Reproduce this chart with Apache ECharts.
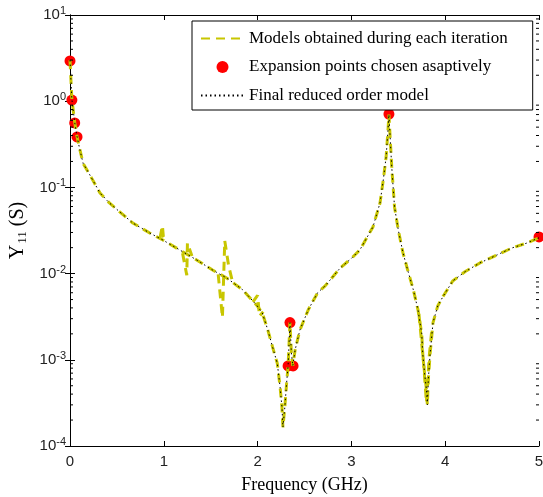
<!DOCTYPE html>
<html>
<head>
<meta charset="utf-8">
<script src="https://cdn.jsdelivr.net/npm/echarts@6/dist/echarts.min.js"></script>
<style>
  html, body { margin: 0; padding: 0; background: #fff; }
  #chart { width: 543px; height: 497px; }
</style>
</head>
<body>
<div id="chart"></div>
<script>
// final reduced order model, Y11 (S) against frequency (GHz)
var finalFreq = [0, 0.02, 0.05, 0.075, 0.10, 0.14, 0.20, 0.32, 0.42, 0.53, 0.67, 0.85, 0.99,
  1.17, 1.35, 1.52, 1.67, 1.84, 1.99, 2.05, 2.11, 2.16, 2.21, 2.24, 2.26, 2.27, 2.29, 2.31,
  2.325, 2.345, 2.36, 2.375, 2.40, 2.45, 2.54, 2.64, 2.72, 2.88, 3.00, 3.09, 3.23, 3.305,
  3.34, 3.37, 3.39, 3.40, 3.43, 3.46, 3.50, 3.55, 3.60, 3.66, 3.71, 3.75, 3.76, 3.78, 3.80,
  3.81, 3.82, 3.84, 3.87, 3.92, 3.98, 4.08, 4.21, 4.37, 4.55, 4.71, 4.87, 5.00];
var finalY = [3.0, 1.05, 0.57, 0.39, 0.29, 0.19, 0.147, 0.086, 0.066, 0.052, 0.0386, 0.0296, 0.0245,
  0.0188, 0.0144, 0.011, 0.0089, 0.0065, 0.0043, 0.0035, 0.0022, 0.0014, 0.00091, 0.00048, 0.00028, 0.000165, 0.00028, 0.00055,
  0.00085, 0.0027, 0.0012, 0.00085, 0.0013, 0.0022, 0.0038, 0.006, 0.0072, 0.0116, 0.015, 0.0188, 0.0348, 0.066,
  0.122, 0.225, 0.46, 0.70, 0.173, 0.059, 0.032, 0.0174, 0.011, 0.0065, 0.0038, 0.002, 0.0012, 0.0007, 0.00045,
  0.0003, 0.00059, 0.0012, 0.0027, 0.0042, 0.0055, 0.0082, 0.0105, 0.0133, 0.0164, 0.0198, 0.0226, 0.026];

// intermediate models that differ from the final one (spurious poles)
var spike1Freq = [0.96, 0.985, 0.995, 1.03];
var spike1Y = [0.026, 0.036, 0.027, 0.0235];
var spike2Freq = [1.20, 1.245, 1.252, 1.30];
var spike2Y = [0.0172, 0.0096, 0.0226, 0.016];
var spike3Freq = [1.58, 1.625, 1.65, 1.69, 1.73];
var spike3Y = [0.0098, 0.0031, 0.024, 0.0125, 0.0082];
var spike4Freq = [1.95, 2.0, 2.02, 2.06];
var spike4Y = [0.0047, 0.0056, 0.0032, 0.0036];
var notchFreq = [3.72, 3.77, 3.79, 3.80, 3.83, 3.86];
var notchY = [0.0034, 0.0009, 0.00045, 0.00032, 0.0011, 0.0024];

// expansion points
var expFreq = [0, 0.02, 0.05, 0.075, 2.325, 2.345, 2.378, 3.40, 5.0];
var expY = [2.93, 1.03, 0.56, 0.385, 0.00085, 0.0027, 0.00085, 0.71, 0.0266];

// log minor ticks (mantissas 2..9 in each decade)
var decades = [-4, -3, -2, -1, 0];
var mantissas = [2, 3, 4, 5, 6, 7, 8, 9];

function pairs(xs, ys) {
  return xs.map(function (x, i) { return [x, ys[i]]; });
}

var minorTicks = [];
decades.forEach(function (d) {
  mantissas.forEach(function (m) { minorTicks.push([0, m * Math.pow(10, d)]); });
});

var modelName = 'Models obtained during each iteration';
var pointsName = 'Expansion points chosen asaptively';
var finalName = 'Final reduced order model';
var modelColor = '#c8c600';
var modelLine = { color: modelColor, width: 3, type: [9, 6] };

function modelSeries(data) {
  return {
    name: modelName, type: 'line', data: data, symbol: 'none',
    lineStyle: modelLine, itemStyle: { color: modelColor }, z: 3
  };
}

var chart = echarts.init(document.getElementById('chart'), null, { renderer: 'canvas' });

var sansFont = 'Liberation Sans, Arial, sans-serif';
var serifFont = 'Liberation Serif, Times New Roman, serif';

chart.setOption({
  animation: false,
  backgroundColor: '#fff',
  grid: { left: 70, right: 4, top: 15, bottom: 51, outerBoundsMode: 'none', containLabel: false },
  legend: {
    data: [
      { name: modelName, itemStyle: { opacity: 0 } },
      { name: pointsName, itemStyle: { opacity: 1, color: '#ff0000' } },
      { name: finalName, itemStyle: { opacity: 0 } }
    ],
    orient: 'vertical',
    left: 192, top: 21,
    padding: [9, 25, 6, 8],
    itemGap: 11.5,
    itemWidth: 43, itemHeight: 12,
    borderColor: '#000', borderWidth: 1, borderRadius: 0,
    backgroundColor: '#fff',
    textStyle: { fontFamily: serifFont, fontSize: 17, color: '#000' }
  },
  xAxis: [{
    type: 'value', min: 0, max: 5, interval: 1,
    name: 'Frequency (GHz)', nameLocation: 'middle', nameGap: 30,
    nameTextStyle: { fontFamily: serifFont, fontSize: 18, color: '#000' },
    axisLine: { lineStyle: { color: '#000', width: 1 } },
    axisTick: { inside: true, length: 5, lineStyle: { color: '#000' } },
    axisLabel: { fontFamily: sansFont, fontSize: 15, color: '#222', margin: 8 },
    splitLine: { show: false }
  }, {
    type: 'value', min: 0, max: 5, interval: 1, position: 'top',
    axisLine: { lineStyle: { color: '#000', width: 1 } },
    axisTick: { inside: true, length: 5, lineStyle: { color: '#000' } },
    axisLabel: { show: false },
    splitLine: { show: false }
  }],
  yAxis: [{
    type: 'log', logBase: 10, min: 0.0001, max: 10, splitNumber: 5,
    name: '{a|Y}{b|11}{a| (S)}', nameLocation: 'middle', nameGap: 37,
    nameTextStyle: {
      rich: {
        a: { fontFamily: serifFont, fontSize: 20, color: '#000' },
        b: { fontFamily: serifFont, fontSize: 13, color: '#000', verticalAlign: 'bottom', padding: [8, 0, 0, 1] }
      }
    },
    axisLine: { show: true, lineStyle: { color: '#000', width: 1 } },
    axisTick: { show: true, inside: true, length: 5, lineStyle: { color: '#000' } },
    axisLabel: {
      margin: 4,
      formatter: function (v) { return '{m|10}{e|' + Math.round(Math.log10(v)) + '}'; },
      rich: {
        m: { fontFamily: sansFont, fontSize: 15, color: '#222' },
        e: { fontFamily: sansFont, fontSize: 11, color: '#222', verticalAlign: 'top', padding: [0, 0, 8, 0] }
      }
    },
    splitLine: { show: false }
  }, {
    type: 'log', logBase: 10, min: 0.0001, max: 10, splitNumber: 5, position: 'right',
    axisLine: { show: true, lineStyle: { color: '#000', width: 1 } },
    axisTick: { show: true, inside: true, length: 5, lineStyle: { color: '#000' } },
    axisLabel: { show: false },
    splitLine: { show: false }
  }],
  series: [
    {
      name: 'minor ticks', type: 'custom', data: minorTicks, silent: true, z: 10,
      renderItem: function (params, api) {
        var v = api.value(1);
        var l = api.coord([0, v]);
        var r = api.coord([5, v]);
        return {
          type: 'group',
          children: [
            { type: 'line', shape: { x1: l[0], y1: l[1], x2: l[0] + 3, y2: l[1] }, style: { stroke: '#000', lineWidth: 1 } },
            { type: 'line', shape: { x1: r[0] - 3, y1: r[1], x2: r[0], y2: r[1] }, style: { stroke: '#000', lineWidth: 1 } }
          ]
        };
      }
    },
    {
      name: pointsName, type: 'scatter',
      data: pairs(expFreq, expY), symbol: 'circle', symbolSize: 11,
      itemStyle: { color: '#ff0000', opacity: 1 }, z: 2
    },
    modelSeries(pairs(finalFreq, finalY)),
    modelSeries(pairs(spike1Freq, spike1Y)),
    modelSeries(pairs(spike2Freq, spike2Y)),
    modelSeries(pairs(spike3Freq, spike3Y)),
    modelSeries(pairs(spike4Freq, spike4Y)),
    modelSeries(pairs(notchFreq, notchY)),
    {
      name: finalName, type: 'line', data: pairs(finalFreq, finalY),
      symbol: 'none', lineStyle: { color: '#000', width: 1, type: [1.5, 3] },
      itemStyle: { color: '#000' }, z: 4
    }
  ]
});
</script>
</body>
</html>
